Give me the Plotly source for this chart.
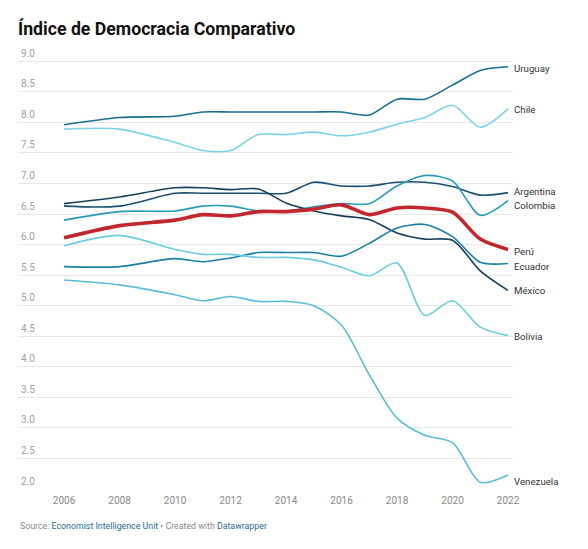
import plotly.graph_objects as go

years = [2006, 2008, 2010, 2011, 2012, 2013, 2014, 2015, 2016, 2017, 2018, 2019, 2020, 2021, 2022]

uruguay = [7.96, 8.08, 8.10, 8.17, 8.17, 8.17, 8.17, 8.17, 8.17, 8.12, 8.38, 8.38, 8.61, 8.85, 8.91]
chile = [7.89, 7.89, 7.67, 7.54, 7.54, 7.80, 7.80, 7.84, 7.78, 7.84, 7.97, 8.08, 8.28, 7.92, 8.22]
argentina = [6.63, 6.63, 6.84, 6.84, 6.84, 6.84, 6.84, 7.02, 6.96, 6.96, 7.02, 7.02, 6.95, 6.81, 6.85]
colombia = [6.40, 6.54, 6.55, 6.63, 6.63, 6.55, 6.55, 6.62, 6.67, 6.67, 6.96, 7.13, 7.04, 6.48, 6.72]
mexico = [6.67, 6.78, 6.93, 6.93, 6.90, 6.91, 6.68, 6.55, 6.47, 6.41, 6.19, 6.09, 6.07, 5.57, 5.25]
peru = [6.11, 6.31, 6.40, 6.49, 6.47, 6.54, 6.54, 6.58, 6.65, 6.49, 6.60, 6.60, 6.53, 6.09, 5.92]
ecuador = [5.64, 5.64, 5.77, 5.72, 5.78, 5.87, 5.87, 5.87, 5.81, 6.02, 6.27, 6.33, 6.13, 5.71, 5.69]
bolivia = [5.98, 6.15, 5.92, 5.84, 5.84, 5.79, 5.79, 5.75, 5.63, 5.49, 5.70, 4.84, 5.08, 4.65, 4.51]
venezuela = [5.42, 5.34, 5.18, 5.08, 5.15, 5.07, 5.07, 5.00, 4.68, 3.87, 3.16, 2.88, 2.76, 2.11, 2.23]

x_ticks = [2006, 2008, 2010, 2012, 2014, 2016, 2018, 2020, 2022]
y_ticks = [2.0, 2.5, 3.0, 3.5, 4.0, 4.5, 5.0, 5.5, 6.0, 6.5, 7.0, 7.5, 8.0, 8.5, 9.0]

# name, values, colour, width, label nudge (px)
series = [
    ("Uruguay", uruguay, "#1b6f8e", 1.6, -2),
    ("Chile", chile, "#7dd2e7", 1.6, -1),
    ("Argentina", argentina, "#1a4f70", 1.6, 1),
    ("Colombia", colombia, "#2a9ab8", 1.6, -5),
    ("México", mexico, "#163f5c", 1.6, 0),
    ("Ecuador", ecuador, "#1d7ea5", 1.6, -3),
    ("Bolivia", bolivia, "#6ccbe3", 1.6, -1),
    ("Venezuela", venezuela, "#5cbcd8", 1.6, -7),
    ("Perú", peru, "#c1272d", 3.6, -2),
]

fig = go.Figure()
for name, vals, col, w, nudge in series:
    fig.add_trace(go.Scatter(
        x=years, y=vals, mode="lines", name=name,
        line=dict(color=col, width=w, shape="spline", smoothing=0.8),
        cliponaxis=False, hoverinfo="skip"))
    fig.add_annotation(
        x=years[-1], y=vals[-1], text=name, showarrow=False,
        xanchor="left", yanchor="middle", xshift=4, yshift=nudge,
        font=dict(family="Roboto", size=9.7, color="#333333"))

# page body has an 8px margin, so the figure is 8px smaller than the window
fig.add_annotation(
    xref="paper", yref="paper", x=0, y=-0.0835, xanchor="left", yanchor="middle",
    showarrow=False,
    text=("<span style='color:#888888'>Source: </span>"
          "<span style='color:#2b6b96'>Economist Intelligence Unit</span>"
          "<span style='color:#888888'> • Created with </span>"
          "<span style='color:#2b6b96'>Datawrapper</span>"),
    font=dict(family="Roboto", size=8.8))

# top of range padded so the 9.0 label (drawn above its gridline) stays visible
fig.update_layout(
    width=580, height=541,
    margin=dict(l=10, r=75, t=38, b=60),
    paper_bgcolor="white", plot_bgcolor="white",
    showlegend=False,
    title=dict(text="<b>Índice de Democracia Comparativo</b>",
               x=10 / 580, xref="container", xanchor="left",
               y=1 - 21 / 541, yref="container", yanchor="middle",
               font=dict(family="Roboto", size=17.7, color="#111111")),
    xaxis=dict(range=[2004.34, 2022.18], tickvals=x_ticks,
               ticktext=[str(t) for t in x_ticks],
               showgrid=False, zeroline=False, showline=False, ticks="",
               ticklabelstandoff=4,
               tickfont=dict(family="Roboto", size=10, color="#888888")),
    yaxis=dict(range=[2.0, 9.25], tickvals=y_ticks,
               ticktext=[f"{t:.1f}" for t in y_ticks],
               showgrid=True, gridcolor="#e8e8e8", gridwidth=1,
               zeroline=False, showline=False, ticks="",
               ticklabelposition="inside", ticklabelshift=-8,
               ticklabelstandoff=0,
               tickfont=dict(family="Roboto", size=10, color="#a0a0a0")),
)

fig.write_html("out.html")
